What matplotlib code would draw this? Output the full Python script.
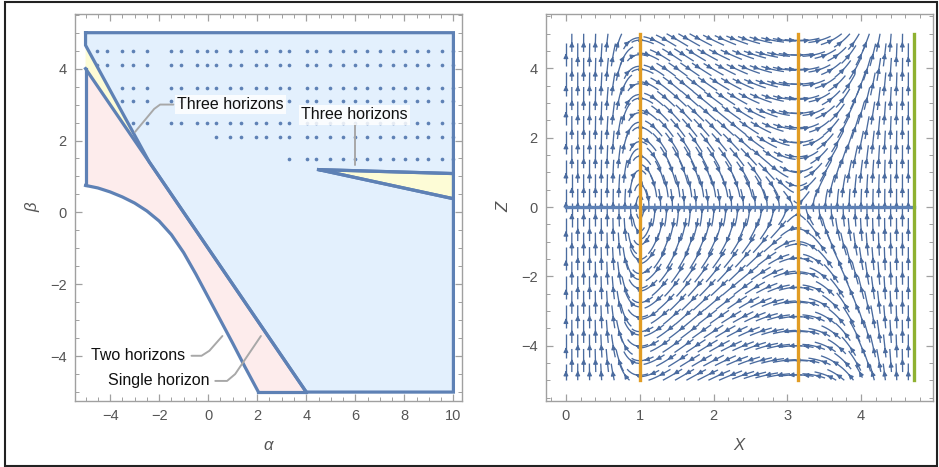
import numpy as np
import matplotlib.pyplot as plt
from matplotlib.patches import Rectangle
from matplotlib.ticker import MultipleLocator

plt.rcParams['font.family'] = ['Liberation Sans', 'DejaVu Sans']

# ---- left panel data (alpha, beta) ----
# white / pink boundary curve
alpha_low = [-5.0, -4.5, -4.0, -3.5, -3.0, -2.5, -2.0, -1.5, -1.0, -0.5, 0.0, 0.5, 1.0, 1.5, 2.05]
beta_low = [0.75, 0.68, 0.57, 0.43, 0.26, 0.04, -0.24, -0.62, -1.12, -1.72, -2.36, -3.0,
            -3.64, -4.3, -5.0]
# straight boundary alpha + beta = -1 and the upper edge of the yellow sliver
line_alpha = [-5.0, 4.0]
line_beta = [4.0, -5.0]
sliver_alpha = [-5.0, -2.4]
sliver_beta = [4.65, 1.4]
# small yellow wedge on the right
wedge_alpha = [4.5, 10.0, 10.0]
wedge_beta = [1.19, 1.08, 0.38]
# rows of sample dots
dot_rows = [4.49, 4.11, 3.47, 3.10, 2.50, 2.10, 1.48]
dot_row_start = [-4.52, -4.52, -3.52, -3.52, -3.07, 0.32, 3.31]
dot_cols = [-4.52, -4.11, -3.52, -3.07, -2.50, -1.52, -1.12, -0.46, -0.06, 0.32,
            0.89, 1.33, 1.95, 2.35, 2.93, 3.31, 4.02, 4.40, 4.97, 5.51, 5.99,
            6.47, 7.01, 7.53, 8.03, 8.51, 8.98, 9.53, 9.98]

# ---- right panel: stream field in (X, Z) ----
x_max = 3 * np.pi / 2
nullclines_x = [1.0, np.pi]


def field(X, Z):
    p = 0.0039 * X**3 * (x_max - X)**2
    return Z * p, (X - 1.0) * (X - np.pi)


edge = '#5E81B5'
fill_blue = '#E3F0FD'
fill_pink = '#FDECEC'
fill_yellow = '#FDFCD6'
gray_txt = '#555555'
frame_gray = '#A0A0A0'

fig = plt.figure(figsize=(9.39, 4.67), dpi=100)
ax1 = fig.add_axes([75 / 939, 1 - 400.7 / 467, 387 / 939, 386.7 / 467])
ax2 = fig.add_axes([546 / 939, 1 - 400.7 / 467, 386.7 / 939, 386.7 / 467])

# ---- left panel ----
jx, jy = sliver_alpha[1], sliver_beta[1]
blue_a = [-5, 10, 10, wedge_alpha[0], 10, 10, line_alpha[1], jx, sliver_alpha[0]]
blue_b = [5, 5, wedge_beta[1], wedge_beta[0], wedge_beta[2], -5, line_beta[1], jy, sliver_beta[0]]
pink_a = [line_alpha[0]] + [line_alpha[1]] + alpha_low[::-1]
pink_b = [line_beta[0]] + [line_beta[1]] + beta_low[::-1]
yel_a = [sliver_alpha[0], jx, line_alpha[0]]
yel_b = [sliver_beta[0], jy, line_beta[0]]

ax1.fill(blue_a, blue_b, color=fill_blue, lw=0, zorder=1)
ax1.fill(pink_a, pink_b, color=fill_pink, lw=0, zorder=1)
ax1.fill(yel_a, yel_b, color=fill_yellow, lw=0, zorder=1)
ax1.fill(wedge_alpha, wedge_beta, color=fill_yellow, lw=0, zorder=1)

da, db = [], []
for b, a0 in zip(dot_rows, dot_row_start):
    for a in dot_cols:
        if a >= a0 - 1e-6:
            da.append(a)
            db.append(b)
ax1.scatter(da, db, s=7, color=edge, lw=0, zorder=2)

lw = 2.3
ax1.plot(blue_a + [blue_a[0]], blue_b + [blue_b[0]], color=edge, lw=lw, zorder=3,
         solid_joinstyle='miter')
ax1.plot(line_alpha, line_beta, color=edge, lw=lw, zorder=3)
ax1.plot([-5, -5], [line_beta[0], beta_low[0]], color=edge, lw=lw, zorder=3)
ax1.plot(alpha_low, beta_low, color=edge, lw=lw, zorder=3)
ax1.plot([alpha_low[-1], line_alpha[1]], [-5, -5], color=edge, lw=lw, zorder=3)
ax1.plot(wedge_alpha + [wedge_alpha[0]], wedge_beta + [wedge_beta[0]], color=edge,
         lw=lw, zorder=3, solid_joinstyle='miter')

# callouts
lead = dict(color='#A8A8A8', lw=1.4, zorder=4, solid_capstyle='round')
box = dict(boxstyle='square,pad=0.15', fc='white', ec='none', alpha=0.85)
ax1.plot([-1.42, -1.96, -2.2, -2.98], [3.0, 3.0, 2.88, 2.24], **lead)
ax1.text(0.9, 3.0, 'Three horizons', ha='center', va='center', fontsize=11.5,
         color='#111111', bbox=box, zorder=5)
ax1.plot([5.97, 5.97], [2.45, 1.32], **lead)
ax1.text(5.97, 2.72, 'Three horizons', ha='center', va='center', fontsize=11.5,
         color='#111111', bbox=box, zorder=5)
ax1.plot([-0.68, -0.27, 0.05, 0.58], [-3.99, -3.99, -3.85, -3.44], **lead)
ax1.text(-0.94, -3.97, 'Two horizons', ha='right', va='center', fontsize=11.5,
         color='#111111', zorder=5)
ax1.plot([0.29, 0.77, 1.1, 2.15], [-4.69, -4.69, -4.5, -3.44], **lead)
ax1.text(-2.0, -4.69, 'Single horizon', ha='center', va='center', fontsize=11.5,
         color='#111111', zorder=5)

ax1.set_xlim(-5.43, 10.35)
ax1.set_ylim(-5.24, 5.52)
ax1.xaxis.set_major_locator(MultipleLocator(2))
ax1.xaxis.set_minor_locator(MultipleLocator(0.5))
ax1.yaxis.set_major_locator(MultipleLocator(2))
ax1.yaxis.set_minor_locator(MultipleLocator(0.5))
ax1.set_xlabel('α', fontsize=12, color=gray_txt, style='italic', labelpad=11)
ax1.set_ylabel('β', fontsize=12, color=gray_txt, style='italic', labelpad=7)

# ---- right panel ----
xg = np.linspace(0, x_max, 200)
zg = np.linspace(-5, 5, 300)
XX, ZZ = np.meshgrid(xg, zg)
U, V = field(XX, ZZ)

# staggered seed grid, short segments like a Mathematica StreamPlot
seeds = []
zs = np.arange(-4.85, 4.9, 0.42)
for i, z in enumerate(zs):
    off = 0.08 if i % 2 else 0.0
    for x in np.arange(0.0 + off, x_max - 0.02, 0.16):
        seeds.append((x, z))
seeds = np.array(seeds)

ax2.streamplot(xg, zg, U, V, start_points=seeds, broken_streamlines=False,
               density=4, color='#4A6B9F', linewidth=0.95, arrowsize=0.65,
               arrowstyle='-|>', maxlength=0.075, minlength=0.005, zorder=2)
ax2.plot([0, x_max], [0, 0], color=edge, lw=2.4, zorder=3)
for xv in nullclines_x:
    ax2.plot([xv, xv], [-5, 5], color='#E19C24', lw=2.4, zorder=4)
ax2.plot([x_max, x_max], [-5, 5], color='#8FB131', lw=2.4, zorder=4)

ax2.set_xlim(-0.27, 4.97)
ax2.set_ylim(-5.59, 5.57)
ax2.xaxis.set_major_locator(MultipleLocator(1))
ax2.xaxis.set_minor_locator(MultipleLocator(0.2))
ax2.yaxis.set_major_locator(MultipleLocator(2))
ax2.yaxis.set_minor_locator(MultipleLocator(0.5))
ax2.set_xlabel('X', fontsize=12, color=gray_txt, style='italic', labelpad=11)
ax2.set_ylabel('Z', fontsize=12, color=gray_txt, style='italic', labelpad=7)

for ax in (ax1, ax2):
    ax.tick_params(which='both', direction='in', top=True, right=True,
                   color=frame_gray, labelcolor=gray_txt, labelsize=10.5, pad=6)
    ax.tick_params(which='major', length=5, width=0.9)
    ax.tick_params(which='minor', length=3, width=0.7)
    for s in ax.spines.values():
        s.set_color(frame_gray)
        s.set_linewidth(1.0)

fig.add_artist(Rectangle((5 / 939, 1.5 / 467), 932 / 939, 464 / 467,
                         transform=fig.transFigure, fill=False, lw=1.5, ec='#222222'))

fig.savefig('out.png', dpi=100)
